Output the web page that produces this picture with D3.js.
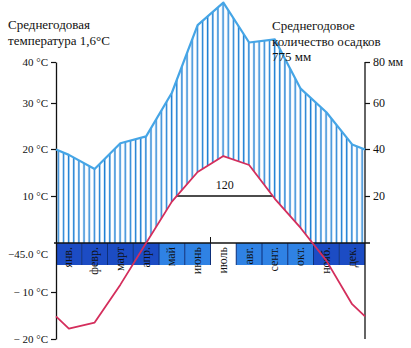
<!DOCTYPE html>
<html><head><meta charset="utf-8">
<script src="https://cdn.jsdelivr.net/npm/d3@7"></script>
<style>
body{margin:0;background:#fff}
svg{display:block}
svg text{font-family:"Liberation Serif","DejaVu Serif",serif !important}
</style>
</head><body><svg id="c" width="411" height="348"></svg>
<script>
// ---- data ----
const months = ["янв.","февр.","март","апр.","май","июнь","июль","авг.","сент.","окт.","нояб.","дек."];
const temperature = [-17.8,-16.5,-8.5,0,8.8,15.1,18.5,16.6,9.4,3.2,-3.6,-12.6];   // °C
const precipitation = [37.5,31.5,42.5,45.5,65,98,109,89.5,91,67,56,42];           // мм
const cellType = ["cold","cold","cold","cold","mild","mild","peak","mild","mild","mild","cold","cold"];
const tempTicks = [40,30,20,10,-10,-20];
const tempTickLabels = ["40 °C","30 °C","20 °C","10 °C","\u2212 10 °C","\u2212 20 °C"];
const bandTickValue = -2.3;
const bandTickLabel = "\u221245.0 °C";
const precipTicks = [80,60,40,20];
const precipTickLabels = ["80 мм","60","40","20"];
const leftTitle = ["Среднегодовая","температура 1,6°C"];
const rightTitle = ["Среднегодовое","количество осадков","775 мм"];
const thresholdTemp = 10;
const thresholdLabel = "120";

// ---- layout ----
const svg = d3.select("#c");
const x = d3.scaleBand().domain(months).range([56,365]);
const yT = d3.scaleLinear().domain([-20,-10,0,10,20,30,40]).range([339,292,243,196,149,103,62]);
const yP = d3.scaleLinear().domain([0,20,40,60,80]).range([243,196,149,103,62]);
const cx = m => x(m) + x.bandwidth()/2;
const [x0,x1] = x.range();
const bandTop = yT(0), bandH = 22;

const tEdge = (temperature[0]+temperature[11])/2;
const pEdge = (precipitation[0]+precipitation[11])/2;
const tPts = [{x:x0,v:tEdge}, ...months.map((m,i)=>({x:cx(m),v:temperature[i]})), {x:x1,v:tEdge}];
const pPts = [{x:x0,v:pEdge}, ...months.map((m,i)=>({x:cx(m),v:precipitation[i]})), {x:x1,v:pEdge}];

const defs = svg.append("defs");
const step = x.bandwidth()/5;
const pat = defs.append("pattern").attr("id","hatch").attr("patternUnits","userSpaceOnUse")
  .attr("x",x0).attr("y",0).attr("width",step).attr("height",10);
pat.append("line").attr("x1",2.3).attr("x2",2.3).attr("y1",-1).attr("y2",11)
  .attr("stroke","#1f80d4").attr("stroke-width",1.5);
defs.append("clipPath").attr("id","above0").append("rect")
  .attr("x",0).attr("y",0).attr("width",411).attr("height",bandTop);

// hatched precipitation area
svg.append("path").datum(pPts)
  .attr("d", d3.area().x(d=>d.x).y0(bandTop).y1(d=>yP(d.v)))
  .attr("fill","url(#hatch)");
// white region under positive temperatures
svg.append("path").datum(tPts)
  .attr("clip-path","url(#above0)")
  .attr("d", d3.area().x(d=>d.x).y0(bandTop).y1(d=>yT(d.v)))
  .attr("fill","#fff");

// month band
const colors = {cold:"#1c4cc4", mild:"#2f82e4", peak:"#ffffff"};
svg.selectAll("rect.cell").data(months).join("rect").attr("class","cell")
  .attr("x",d=>x(d)).attr("y",bandTop).attr("width",x.bandwidth()).attr("height",bandH)
  .attr("fill",(d,i)=>colors[cellType[i]]);
svg.selectAll("line.sep").data(months.slice(1)).join("line").attr("class","sep")
  .attr("x1",d=>x(d)).attr("x2",d=>x(d)).attr("y1",bandTop).attr("y2",bandTop+bandH)
  .attr("stroke","#0d2f7a").attr("stroke-width",1);
svg.append("line").attr("x1",x0-2).attr("x2",x1+5).attr("y1",bandTop).attr("y2",bandTop)
  .attr("stroke","#111").attr("stroke-width",1.5);
svg.selectAll("text.month").data(months).join("text").attr("class","month")
  .attr("transform",d=>`translate(${cx(d)},${bandTop+4}) rotate(-90)`)
  .attr("text-anchor","end").attr("dy","0.3em")
  .attr("font-size",12).attr("fill","#111")
  .text(d=>d);

// mid-year tick
svg.append("line").attr("x1",x(months[6])).attr("x2",x(months[6]))
  .attr("y1",bandTop-6).attr("y2",bandTop).attr("stroke","#111").attr("stroke-width",1);

// axes
const gl = svg.append("g").attr("transform",`translate(${x0},0)`)
  .call(d3.axisLeft(yT).tickValues(tempTicks).tickFormat((d,i)=>tempTickLabels[i]).tickSize(5).tickSizeOuter(0).tickPadding(3));
gl.attr("font-size",11);
gl.select(".domain").attr("stroke","#111").attr("stroke-width",1.3);
gl.selectAll(".tick line").attr("stroke","#111").attr("stroke-width",1.2);
gl.selectAll(".tick text").attr("fill","#111");
svg.append("text").attr("x",x0-8).attr("y",yT(bandTickValue)).attr("dy","0.32em")
  .attr("text-anchor","end").attr("font-size",11).attr("fill","#111")
  .text(bandTickLabel);

const gr = svg.append("g").attr("transform",`translate(${x1},0)`)
  .call(d3.axisRight(yP).tickValues(precipTicks).tickFormat((d,i)=>precipTickLabels[i]).tickSize(5).tickSizeOuter(0).tickPadding(3));
gr.attr("font-size",12);
gr.select(".domain").remove();
gr.selectAll(".tick line").attr("stroke","#111").attr("stroke-width",1.2);
gr.selectAll(".tick text").attr("fill","#111");
svg.append("line").attr("x1",x1).attr("x2",x1).attr("y1",yT(40)).attr("y2",yT(-20))
  .attr("stroke","#111").attr("stroke-width",1.3);

// threshold (days above 10 °C)
const crossings = [];
for (let i=0;i<tPts.length-1;i++){
  const a=tPts[i], b=tPts[i+1];
  if ((a.v-thresholdTemp)*(b.v-thresholdTemp)<0){
    crossings.push(a.x + (thresholdTemp-a.v)/(b.v-a.v)*(b.x-a.x));
  }
}
svg.append("line").attr("x1",crossings[0]).attr("x2",crossings[crossings.length-1])
  .attr("y1",yT(thresholdTemp)).attr("y2",yT(thresholdTemp))
  .attr("stroke","#111").attr("stroke-width",1.3);
svg.append("text").attr("x",(crossings[0]+crossings[crossings.length-1])/2).attr("y",yT(thresholdTemp)-7)
  .attr("text-anchor","middle").attr("font-size",12).attr("fill","#111")
  .text(thresholdLabel);

// curves
svg.append("path").datum(pPts)
  .attr("d", d3.line().x(d=>d.x).y(d=>yP(d.v)))
  .attr("fill","none").attr("stroke","#45a5e6").attr("stroke-width",2.2).attr("stroke-linejoin","round");
svg.append("path").datum(tPts)
  .attr("d", d3.line().x(d=>d.x).y(d=>yT(d.v)))
  .attr("fill","none").attr("stroke","#d42e5c").attr("stroke-width",1.8).attr("stroke-linejoin","round");

// titles
svg.selectAll("text.lt").data(leftTitle).join("text").attr("class","lt")
  .attr("x",8).attr("y",(d,i)=>29+i*16)
  .attr("font-size",13).attr("fill","#111").text(d=>d);
svg.selectAll("text.rt").data(rightTitle).join("text").attr("class","rt")
  .attr("x",272).attr("y",(d,i)=>30+i*15.5)
  .attr("font-size",13).attr("fill","#111").text(d=>d);
</script>
</body></html>
